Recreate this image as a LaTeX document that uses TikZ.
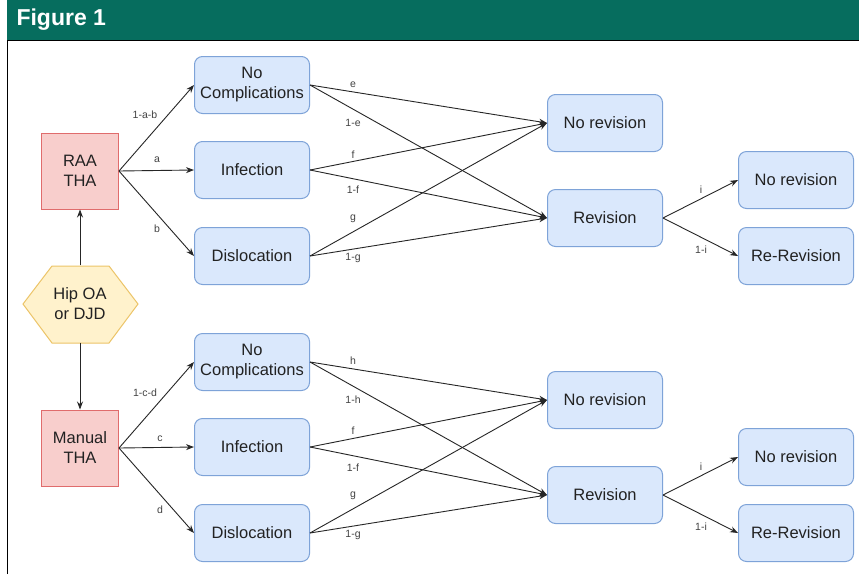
\documentclass[tikz,border=0pt]{standalone}
\usepackage{fontspec}
\setmainfont{Liberation Sans}
\usetikzlibrary{arrows.meta}
\definecolor{hdr}{RGB}{6,109,94}
\definecolor{redfill}{HTML}{F8CECC}
\definecolor{redline}{HTML}{E06C6C}
\definecolor{yelfill}{HTML}{FFF2CC}
\definecolor{yelline}{HTML}{ECC468}
\definecolor{bluefill}{HTML}{DAE8FC}
\definecolor{blueline}{HTML}{7EA3D8}
\definecolor{txt}{HTML}{222222}
\begin{document}
\begin{tikzpicture}[x=1pt,y=-1pt,
  bbox/.style={draw=blueline,fill=bluefill,line width=1pt,rounded corners=8pt,
    minimum width=115pt,minimum height=57pt,inner sep=0pt,align=center,
    font=\fontsize{16.5}{20}\selectfont,text=txt},
  rbox/.style={draw=redline,fill=redfill,line width=1pt,
    minimum width=77pt,minimum height=76pt,inner sep=0pt,align=center,
    font=\fontsize{16.5}{20}\selectfont,text=txt},
  arr/.style={draw=black!85,line width=0.9pt,-{Stealth[length=8pt,width=6pt]}},
  lab/.style={font=\fontsize{10.5}{12}\selectfont,text=txt!85,inner sep=0pt}
]
\useasboundingbox (0,0) rectangle (859,574);
\fill[white] (0,0) rectangle (859,574);
% header
\fill[hdr] (7,0) rectangle (859,40);
\node[anchor=west,text=white,font=\fontsize{23}{26}\selectfont\bfseries] (title) at (13,20) {Figure 1};
\draw[black,line width=1pt] (7,574) -- (7,40.5) -- (859,40.5);

% left column
\node[rbox] (raa) at (80,171) {RAA\\THA};
\node[rbox] (man) at (80,448) {Manual\\THA};
\draw[draw=yelline,fill=yelfill,line width=1pt] (23,304) -- (52,266) -- (109,266) -- (138,304) -- (109,343) -- (52,343) -- cycle;
\node[minimum width=115pt,minimum height=77pt,inner sep=0pt,align=center,
  font=\fontsize{16.5}{20}\selectfont,text=txt] (hip) at (80,304) {Hip OA\\or DJD};

% top group
\node[bbox] (nc1) at (252,85) {No\\Complications};
\node[bbox] (inf1) at (252,170) {Infection};
\node[bbox] (dis1) at (252,256) {Dislocation};
\node[bbox] (nr1) at (605,123) {No revision};
\node[bbox] (rev1) at (605,218) {Revision};
\node[bbox] (nr1b) at (796,180) {No revision};
\node[bbox] (rr1) at (796,256) {Re-Revision};

% bottom group
\node[bbox] (nc2) at (252,362) {No\\Complications};
\node[bbox] (inf2) at (252,447) {Infection};
\node[bbox] (dis2) at (252,533) {Dislocation};
\node[bbox] (nr2) at (605,400) {No revision};
\node[bbox] (rev2) at (605,495) {Revision};
\node[bbox] (nr2b) at (796,457) {No revision};
\node[bbox] (rr2) at (796,533) {Re-Revision};

% hip arrows
\draw[arr] (hip.north) -- (raa.south);
\draw[arr] (hip.south) -- (man.north);

% RAA arrows
\draw[arr] (raa.east) -- (nc1.west);
\draw[arr] (raa.east) -- (inf1.west);
\draw[arr] (raa.east) -- (dis1.west);
\node[lab] (l1ab) at (145,115) {1-a-b};
\node[lab] (la) at (157,160) {a};
\node[lab] (lb) at (157,229) {b};

\draw[arr] (nc1.east) -- (nr1.west);
\draw[arr] (nc1.east) -- (rev1.west);
\draw[arr] (inf1.east) -- (nr1.west);
\draw[arr] (inf1.east) -- (rev1.west);
\draw[arr] (dis1.east) -- (nr1.west);
\draw[arr] (dis1.east) -- (rev1.west);
\node[lab] (le) at (353,85) {e};
\node[lab] (l1e) at (353,123) {1-e};
\node[lab] (lf) at (353,155) {f};
\node[lab] (l1f) at (353,190) {1-f};
\node[lab] (lg) at (353,219) {g};
\node[lab] (l1g) at (353,258) {1-g};

\draw[arr] (rev1.east) -- (nr1b.west);
\draw[arr] (rev1.east) -- (rr1.west);
\node[lab] (li) at (701,190) {i};
\node[lab] (l1i) at (701,250) {1-i};

% Manual arrows
\draw[arr] (man.east) -- (nc2.west);
\draw[arr] (man.east) -- (inf2.west);
\draw[arr] (man.east) -- (dis2.west);
\node[lab] (l1cd) at (145,393) {1-c-d};
\node[lab] (lc) at (160,439) {c};
\node[lab] (ld) at (160,510) {d};

\draw[arr] (nc2.east) -- (nr2.west);
\draw[arr] (nc2.east) -- (rev2.west);
\draw[arr] (inf2.east) -- (nr2.west);
\draw[arr] (inf2.east) -- (rev2.west);
\draw[arr] (dis2.east) -- (nr2.west);
\draw[arr] (dis2.east) -- (rev2.west);
\node[lab] (lh) at (353,361) {h};
\node[lab] (l1h) at (353,400) {1-h};
\node[lab] (lf2) at (353,431) {f};
\node[lab] (l1f2) at (353,468) {1-f};
\node[lab] (lg2) at (353,496) {g};
\node[lab] (l1g2) at (353,535) {1-g};

\draw[arr] (rev2.east) -- (nr2b.west);
\draw[arr] (rev2.east) -- (rr2.west);
\node[lab] (li2) at (701,467) {i};
\node[lab] (l1i2) at (701,527) {1-i};
\end{tikzpicture}
\end{document}
